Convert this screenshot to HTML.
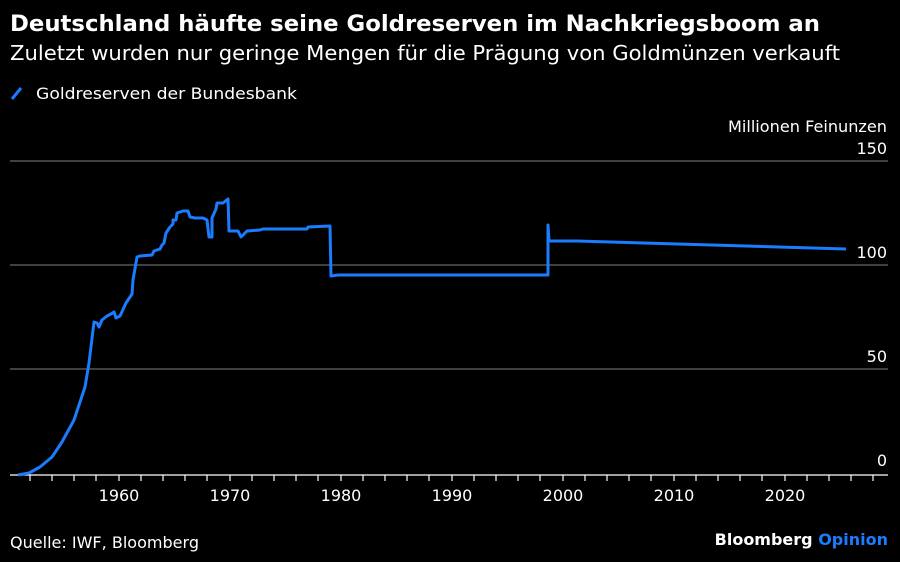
<!DOCTYPE html>
<html><head><meta charset="utf-8"><style>
html,body{margin:0;padding:0;background:#000;}
svg{display:block;}
text{font-family:"DejaVu Sans","Liberation Sans",sans-serif;fill:#fff;}
</style></head><body>
<svg width="900" height="562" viewBox="0 0 900 562" xmlns="http://www.w3.org/2000/svg">
<rect width="900" height="562" fill="#000"/>
<text x="10" y="31" font-size="22" font-weight="bold" textLength="810" lengthAdjust="spacingAndGlyphs">Deutschland häufte seine Goldreserven im Nachkriegsboom an</text>
<text x="10" y="60" font-size="20" textLength="830" lengthAdjust="spacingAndGlyphs">Zuletzt wurden nur geringe Mengen für die Prägung von Goldmünzen verkauft</text>
<line x1="12" y1="99" x2="21" y2="88" stroke="#1a7cff" stroke-width="3"/>
<text x="36" y="99" font-size="16" textLength="261" lengthAdjust="spacingAndGlyphs">Goldreserven der Bundesbank</text>
<text x="887" y="132" font-size="16" text-anchor="end" textLength="159" lengthAdjust="spacingAndGlyphs">Millionen Feinunzen</text>
<g stroke="#666" stroke-width="1.3">
<line x1="10" y1="161" x2="888" y2="161"/>
<line x1="10" y1="265" x2="888" y2="265"/>
<line x1="10" y1="369" x2="888" y2="369"/>
</g>
<g font-size="16" text-anchor="end">
<text x="887" y="154">150</text>
<text x="887" y="258">100</text>
<text x="887" y="362">50</text>
<text x="887" y="466">0</text>
</g>
<line x1="10" y1="475" x2="888" y2="475" stroke="#fff" stroke-width="1.3"/>
<g stroke="#fff" stroke-width="1.2" id="ticks">
<line x1="30" y1="475" x2="30" y2="481"/><line x1="52" y1="475" x2="52" y2="481"/><line x1="74" y1="475" x2="74" y2="481"/><line x1="96" y1="475" x2="96" y2="481"/><line x1="119" y1="475" x2="119" y2="481"/><line x1="141" y1="475" x2="141" y2="481"/><line x1="163" y1="475" x2="163" y2="481"/><line x1="185" y1="475" x2="185" y2="481"/><line x1="207" y1="475" x2="207" y2="481"/><line x1="230" y1="475" x2="230" y2="481"/><line x1="252" y1="475" x2="252" y2="481"/><line x1="274" y1="475" x2="274" y2="481"/><line x1="296" y1="475" x2="296" y2="481"/><line x1="318" y1="475" x2="318" y2="481"/><line x1="341" y1="475" x2="341" y2="481"/><line x1="363" y1="475" x2="363" y2="481"/><line x1="385" y1="475" x2="385" y2="481"/><line x1="407" y1="475" x2="407" y2="481"/><line x1="429" y1="475" x2="429" y2="481"/><line x1="452" y1="475" x2="452" y2="481"/><line x1="474" y1="475" x2="474" y2="481"/><line x1="496" y1="475" x2="496" y2="481"/><line x1="518" y1="475" x2="518" y2="481"/><line x1="540" y1="475" x2="540" y2="481"/><line x1="563" y1="475" x2="563" y2="481"/><line x1="585" y1="475" x2="585" y2="481"/><line x1="607" y1="475" x2="607" y2="481"/><line x1="629" y1="475" x2="629" y2="481"/><line x1="651" y1="475" x2="651" y2="481"/><line x1="674" y1="475" x2="674" y2="481"/><line x1="696" y1="475" x2="696" y2="481"/><line x1="718" y1="475" x2="718" y2="481"/><line x1="740" y1="475" x2="740" y2="481"/><line x1="762" y1="475" x2="762" y2="481"/><line x1="785" y1="475" x2="785" y2="481"/><line x1="807" y1="475" x2="807" y2="481"/><line x1="829" y1="475" x2="829" y2="481"/><line x1="851" y1="475" x2="851" y2="481"/><line x1="873" y1="475" x2="873" y2="481"/>
</g>
<g font-size="16" text-anchor="middle">
<text x="119" y="501">1960</text><text x="230" y="501">1970</text><text x="341" y="501">1980</text><text x="452" y="501">1990</text><text x="563" y="501">2000</text><text x="674" y="501">2010</text><text x="785" y="501">2020</text>
</g>
<polyline fill="none" stroke="#1a7cff" stroke-width="3" stroke-linejoin="round" points="18,475 29,473 40,467 52,457 62,442 74,420 85,387 89,363 94,322 97,323 99,327 102,320 107,316 111,314 114,312 116,318 120,316 126,303 132,294 133,280 137,257 140,256 152,255 154,251 160,249 162,245 164,243 166,233 170,227 173,224 173,220 176,220 177,213 183,211 188,211 190,217 195,218 203,218 207,220 209,237 212,237 212,218 216,209 217,203 223,203 228,199 229,231 238,231 241,237 247,231 260,230 263,229 307,229 308,227 330,226 331,276 338,275 548,275 548,225 549,241 577,241 846,249"/>
<text x="10" y="548" font-size="16" textLength="189" lengthAdjust="spacingAndGlyphs">Quelle: IWF, Bloomberg</text>
<text x="888" y="545" font-size="16" font-weight="bold" text-anchor="end"><tspan>Bloomberg </tspan><tspan fill="#1a7cff" style="fill:#1a7cff">Opinion</tspan></text>
</svg>
</body></html>
